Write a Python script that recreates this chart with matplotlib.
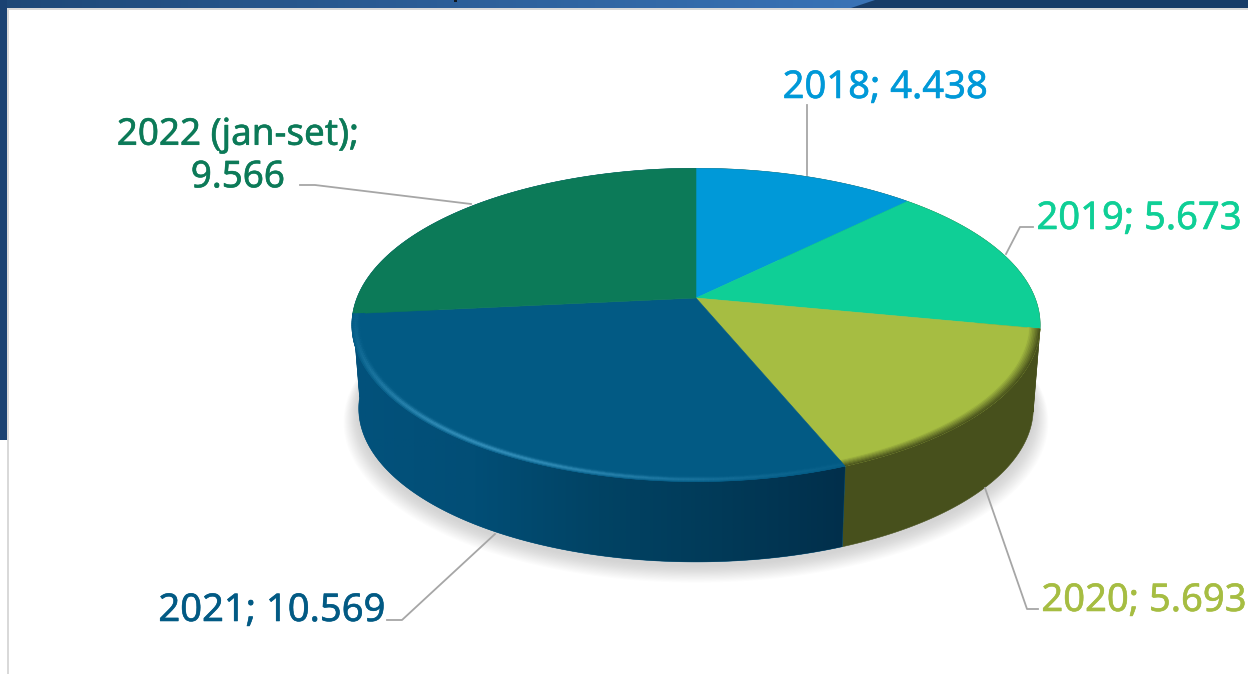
import numpy as np
import matplotlib
matplotlib.use('Agg')
import matplotlib.pyplot as plt
import matplotlib.patheffects as pe
from matplotlib.collections import PolyCollection
from matplotlib.colors import to_rgb
from matplotlib.patches import Polygon, Rectangle

years = ['2018', '2019', '2020', '2021', '2022 (jan-set)']
values = [4438, 5673, 5693, 10569, 9566]
top_colors = ['#0099d8', '#0fcf96', '#a6bd42', '#025a84', '#0c7a58']
# the 2019 and 2022 walls barely show, they take the tone of their neighbour
side_colors = ['#47501c', '#47501c', '#47501c', '#02507a', '#02507a']

# pie geometry, in pixels of the 1248x674 picture
cx, cy = 696, 298
R, A, k = 339, 152, 0.172
depth = 84
shrink = 0.98


def project(theta, r=1.0, dy=0.0, s=1.0):
    # theta runs clockwise from the top of the pie, far side is foreshortened
    u, v = r * np.sin(theta), r * np.cos(theta)
    w = 1 + k * v
    return np.column_stack([cx + s * R * u / w, cy + dy - s * A * v / w])


def mix(c1, c2, t):
    return tuple((1 - t) * a + t * b for a, b in zip(to_rgb(c1), to_rgb(c2)))


def fmt(v):
    return f'{v:,}'.replace(',', '.')


fig = plt.figure(figsize=(12.48, 6.74), dpi=100)
ax = fig.add_axes([0, 0, 1, 1])

# slide frame behind the chart
ax.add_patch(Rectangle((0, 0), 1248, 8, fc='#173c68', ec='none'))
grad = np.linspace(0, 1, 256)[None, :, None]
band = np.array(to_rgb('#1e4877'))[None, None, :] * (1 - grad) + np.array(to_rgb('#3a74b8'))[None, None, :] * grad
im = ax.imshow(band, extent=(0, 875, 8, 0), aspect='auto', zorder=1)
im.set_clip_path(Polygon([(0, 0), (875, 0), (851, 8), (0, 8)], transform=ax.transData))
ax.add_patch(Rectangle((0, 0), 7, 440, fc='#1a4272', ec='none', zorder=2))
ax.add_patch(Rectangle((7, 8), 2, 666, fc='#d9d9d9', ec='none', zorder=2))
ax.add_patch(Rectangle((7, 8), 1241, 2, fc='#d9d9d9', ec='none', zorder=2))
ax.add_patch(Rectangle((454, 0), 3, 2, fc='#101820', ec='none', zorder=3))

# soft shadow under the pie
t_all = np.linspace(0, 2 * np.pi, 361)
for i in range(16):
    grow = 1 + (16 - i) * 0.0028
    pts = project(t_all, dy=depth + 3 + (16 - i) * 0.6, s=shrink * grow)
    ax.add_patch(Polygon(pts, fc='#8a8a8a', ec='none', alpha=0.024, zorder=3))

edges = np.concatenate([[0], np.cumsum(values)]) / sum(values) * 2 * np.pi

# side wall
wall_shade = np.array([to_rgb(c) for c in ['#02527c', '#024e76', '#014364', '#013a58', '#012f4b']])
for i in range(len(values)):
    t = np.linspace(edges[i], edges[i + 1], 200)
    pts = np.vstack([project(t), project(t, dy=depth, s=shrink)[::-1]])
    wall = Polygon(pts, fc=side_colors[i], ec=side_colors[i], lw=0.4, zorder=4)
    ax.add_patch(wall)
    if i == 3:
        # the big slice darkens from left to right
        xs = np.linspace(0, 1, 256)
        ramp = np.column_stack([np.interp(xs, np.linspace(0, 1, 5), wall_shade[:, c]) for c in range(3)])
        wim = ax.imshow(ramp[None, :, :], extent=(pts[:, 0].min(), pts[:, 0].max(), pts[:, 1].max(), pts[:, 1].min()),
                        aspect='auto', zorder=4.5)
        wim.set_clip_path(Polygon(pts, transform=ax.transData))

ax.set_xlim(0, 1248)
ax.set_ylim(674, 0)
ax.axis('off')

# top face
for i in range(len(values)):
    t = np.linspace(edges[i], edges[i + 1], 200)
    pts = np.vstack([[cx, cy], project(t)])
    ax.add_patch(Polygon(pts, fc=top_colors[i], ec=top_colors[i], lw=0.4, zorder=5))

# rounded rim between top face and wall, only on the near slices
radii = np.linspace(1.0, 0.965, 9)
for i in [2, 3]:
    t = np.linspace(edges[i], min(edges[i + 1], 3 * np.pi / 2), 150)
    for a in range(len(radii) - 1):
        quads, cols = [], []
        p0, p1 = project(t, r=radii[a]), project(t, r=radii[a + 1])
        f = a / (len(radii) - 2)
        for j in range(len(t) - 1):
            pos = (t[j] - np.pi) / (np.pi / 2)  # 0 at the front, 1 at the left
            quads.append([p0[j], p0[j + 1], p1[j + 1], p1[j]])
            if i == 3:
                # light streak along the front left of the big slice
                glow = 0.9 * np.exp(-((pos - 0.35) / 0.4) ** 2) * np.exp(-((f - 0.3) / 0.28) ** 2)
                cols.append(mix(top_colors[i], '#3b97c2', min(glow, 1)))
            else:
                cols.append(mix(side_colors[i], top_colors[i], f))
        ax.add_collection(PolyCollection(quads, facecolors=cols, edgecolors=cols, linewidths=0.3, zorder=6))

# leader lines
leaders = [
    ([807, 807], [105, 175]),
    ([1033, 1020, 1006], [227, 227, 254]),
    ([985, 1027, 1038], [488, 609, 609]),
    ([495, 402, 387], [534, 620, 620]),
    ([300, 315, 471], [185, 185, 204]),
]
for lx, ly in leaders:
    ax.plot(lx, ly, color='#a6a6a6', lw=1.3, zorder=7, scalex=False, scaley=False)

# labels
font = 'Noto Sans'
size = 27.5
label_pos = [(885, 88), (1139, 219), (1144, 601), (272, 611)]
for i, (lx, ly) in enumerate(label_pos):
    ax.text(lx, ly, f'{years[i]}; {fmt(values[i])}', color=top_colors[i], fontsize=size, family=font,
            ha='center', va='center', zorder=8,
            path_effects=[pe.withStroke(linewidth=0.4, foreground=top_colors[i])])
ax.text(238, 157, f'{years[4]};\n{fmt(values[4])}', color=top_colors[4], fontsize=26.5, family=font,
        ha='center', va='center', linespacing=1.24, zorder=8,
        path_effects=[pe.withStroke(linewidth=0.4, foreground=top_colors[4])])

fig.savefig('out.png', dpi=100)
